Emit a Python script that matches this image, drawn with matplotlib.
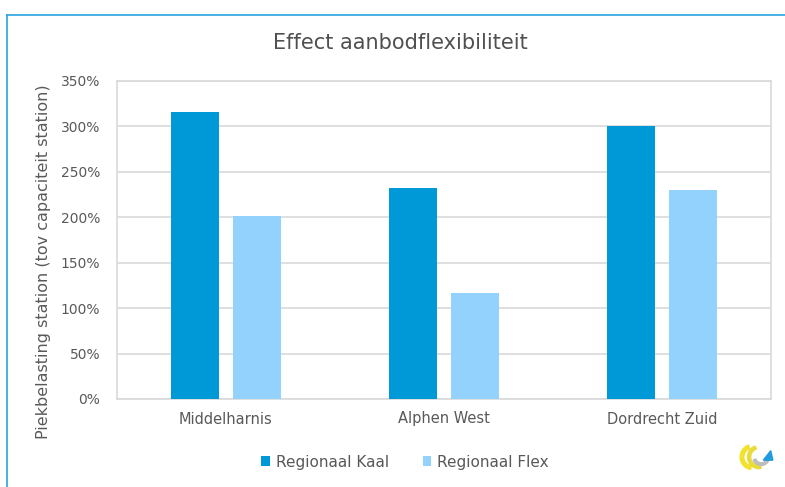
import matplotlib
matplotlib.use("Agg")
import matplotlib.pyplot as plt
import numpy as np
from matplotlib.patches import Wedge, Polygon
from matplotlib.lines import Line2D
from matplotlib.ticker import FuncFormatter

# Data
stations = ["Middelharnis", "Alphen West", "Dordrecht Zuid"]
regionaal_kaal = [316, 232, 300]
regionaal_flex = [201, 117, 230]
series_names = ["Regionaal Kaal", "Regionaal Flex"]
y_ticks = [0, 50, 100, 150, 200, 250, 300, 350]

plt.rcParams["font.family"] = ["DejaVu Sans"]
TXT = "#595959"
C_KAAL = "#0099D8"
C_FLEX = "#92D2FC"

fig = plt.figure(figsize=(7.85, 4.87), dpi=100)
fig.patch.set_facecolor("white")

# Thin blue frame around the chart
fig.add_artist(Line2D([7 / 785, 7 / 785], [0, 1 - 15 / 487], transform=fig.transFigure,
                      color="#29A3E0", lw=1.2))
fig.add_artist(Line2D([7 / 785, 1], [1 - 15 / 487, 1 - 15 / 487], transform=fig.transFigure,
                      color="#29A3E0", lw=1.2))

ax = fig.add_axes([117 / 785, 1 - 399 / 487, (771 - 117) / 785, (399 - 81) / 487])
x = np.arange(len(stations))
w = 0.224
off = 0.142
ax.bar(x - off, regionaal_kaal, width=w, color=C_KAAL, zorder=3, label=series_names[0])
ax.bar(x + off, regionaal_flex, width=w, color=C_FLEX, zorder=3, label=series_names[1])

ax.set_xlim(-0.5, len(stations) - 0.5)
ax.set_ylim(0, 350)
ax.set_yticks(y_ticks)
ax.yaxis.set_major_formatter(FuncFormatter(lambda v, p: f"{int(v)}%"))
ax.set_xticks(x)
ax.set_xticklabels(stations)
ax.grid(axis="y", color="#D9D9D9", lw=1.2, zorder=0)
for s in ax.spines.values():
    s.set_color("#D9D9D9")
    s.set_linewidth(1.2)
ax.tick_params(axis="both", length=0, colors=TXT, labelsize=10)
ax.tick_params(axis="y", pad=12)
ax.tick_params(axis="x", pad=9, labelsize=10.5)

fig.text(44 / 785, 1 - 262 / 487, "Piekbelasting station (tov capaciteit station)",
         rotation=90, ha="center", va="center", color=TXT, fontsize=11.5)

fig.text(400 / 785, 1 - 43 / 487, "Effect aanbodflexibiliteit", ha="center", va="center",
         fontsize=15, color="#505050")

leg = fig.legend(loc="center", bbox_to_anchor=(405 / 785, 1 - 462 / 487), ncol=2, frameon=False,
                 fontsize=11, handlelength=0.55, handleheight=0.55, handletextpad=0.4,
                 columnspacing=2.2, labelcolor=TXT)

# Small logo at the bottom right
lax = fig.add_axes([738 / 785, 1 - 472 / 487, 38 / 785, 30 / 487])
lax.set_xlim(0, 36)
lax.set_ylim(0, 28)
lax.set_aspect("equal")
lax.axis("off")
lax.add_patch(Wedge((14, 14), 12, 110, 260, width=3.5, color="#F2E22E"))
lax.add_patch(Wedge((20, 14), 11, 110, 280, width=3.0, color="#E8DB3A"))
lax.add_patch(Wedge((22, 14), 8, 200, 330, width=2.5, color="#BDBDBD"))
lax.add_patch(Polygon([[24, 11], [33, 11], [31, 20]], closed=True, color="#1F9BDE"))

fig.savefig("out.png", dpi=100, facecolor="white")
